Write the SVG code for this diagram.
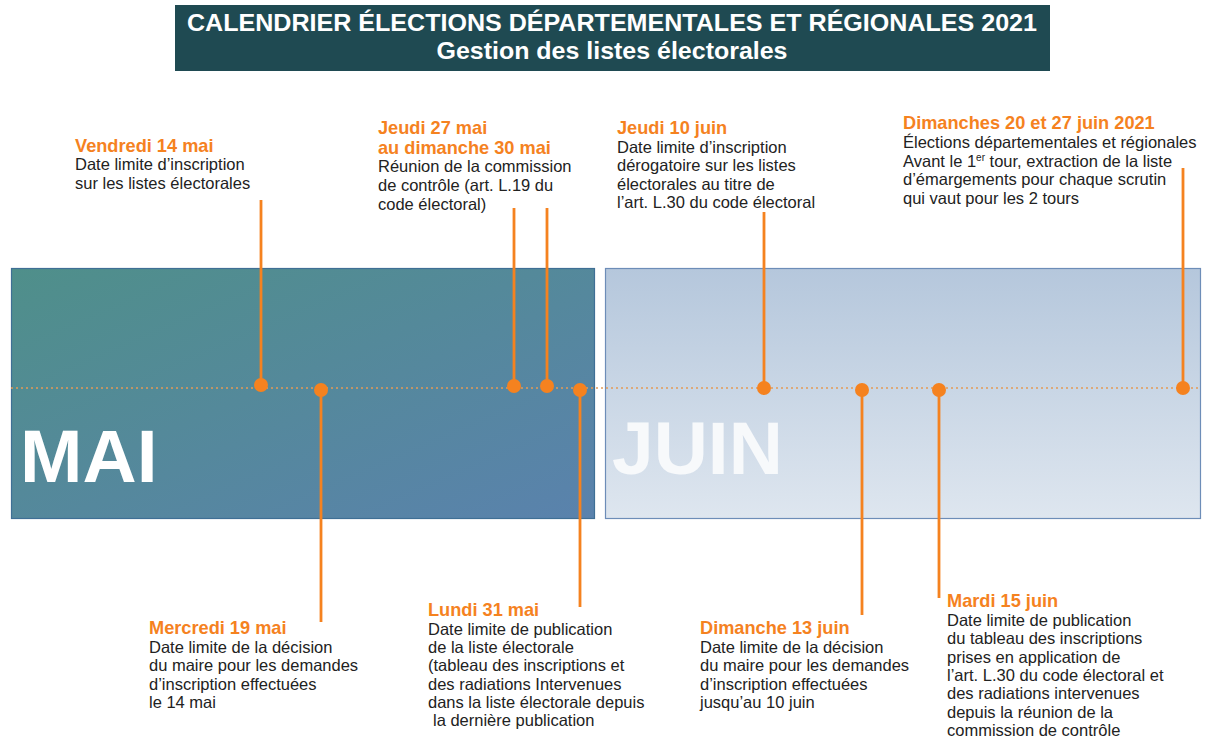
<svg xmlns="http://www.w3.org/2000/svg" width="1208" height="745" viewBox="0 0 1208 745">
<defs>
<linearGradient id="gMai" x1="0" y1="0" x2="1" y2="1">
<stop offset="0" stop-color="#4f8f8a"/>
<stop offset="1" stop-color="#5a82ad"/>
</linearGradient>
<linearGradient id="gJuin" x1="0" y1="0" x2="0" y2="1">
<stop offset="0" stop-color="#b5c7dc"/>
<stop offset="1" stop-color="#dee6ef"/>
</linearGradient>
<style>
.t{font-family:"Liberation Sans",Arial,sans-serif;}
.h{font-family:"Liberation Sans",Arial,sans-serif;font-weight:bold;font-size:18.2px;fill:#f5821f;}
.b{font-family:"Liberation Sans",Arial,sans-serif;font-size:16.5px;fill:#222;}
.ln{stroke:#f5821f;stroke-width:2.8;fill:none;}
.dot{fill:#f5821f;}
</style>
</defs>
<rect width="1208" height="745" fill="#fff"/>
<g id="title">
<rect x="175" y="5" width="875" height="66" fill="#1f4a52"/>
<text class="t" x="612" y="31" text-anchor="middle" font-size="23" font-weight="bold" fill="#fff" textLength="850" lengthAdjust="spacingAndGlyphs">CALENDRIER ÉLECTIONS DÉPARTEMENTALES ET RÉGIONALES 2021</text>
<text class="t" x="612" y="59" text-anchor="middle" font-size="24" font-weight="bold" fill="#fff" textLength="351" lengthAdjust="spacingAndGlyphs">Gestion des listes électorales</text>
</g>
<g id="mai">
<rect x="11.5" y="268.5" width="583" height="250" fill="url(#gMai)" stroke="#3f6f95" stroke-width="1.2"/>
<text class="t" x="20" y="482" font-size="75" font-weight="bold" fill="#fff">MAI</text>
</g>
<g id="juin">
<rect x="605.5" y="268.5" width="595" height="250" fill="url(#gJuin)" stroke="#6d8db8" stroke-width="1.2"/>
<text class="t" x="612" y="474" font-size="75" font-weight="bold" fill="#f7f9fb">JUIN</text>
</g>
<g id="connectors">
<line x1="11" y1="388" x2="1201" y2="388" stroke="#e39a55" stroke-width="1.6" stroke-dasharray="2,3"/>
<line class="ln" x1="261" y1="200" x2="261" y2="385"/>
<line class="ln" x1="321" y1="390" x2="321" y2="622"/>
<line class="ln" x1="514" y1="208" x2="514" y2="386"/>
<line class="ln" x1="547" y1="208" x2="547" y2="386"/>
<line class="ln" x1="580" y1="390" x2="580" y2="607"/>
<line class="ln" x1="764" y1="212" x2="764" y2="388"/>
<line class="ln" x1="862" y1="390" x2="862" y2="615"/>
<line class="ln" x1="939" y1="390" x2="939" y2="598"/>
<line class="ln" x1="1183" y1="168" x2="1183" y2="388"/>
<circle class="dot" cx="261" cy="385" r="7"/>
<circle class="dot" cx="321" cy="390" r="7"/>
<circle class="dot" cx="514" cy="386" r="7"/>
<circle class="dot" cx="547" cy="386" r="7"/>
<circle class="dot" cx="580" cy="390" r="7"/>
<circle class="dot" cx="764" cy="388" r="7"/>
<circle class="dot" cx="862" cy="390" r="7"/>
<circle class="dot" cx="939" cy="390" r="7"/>
<circle class="dot" cx="1183" cy="388" r="7"/>
</g>
<g id="n-vendredi14">
<text class="h" x="75" y="152">Vendredi 14 mai</text>
<text class="b" x="75" y="170">Date limite d’inscription</text>
<text class="b" x="75" y="189">sur les listes électorales</text>
</g>
<g id="n-jeudi27">
<text class="h" x="378" y="134">Jeudi 27 mai</text>
<text class="h" x="378" y="154">au dimanche 30 mai</text>
<text class="b" x="378" y="172">Réunion de la commission</text>
<text class="b" x="378" y="191">de contrôle (art. L.19 du</text>
<text class="b" x="378" y="210">code électoral)</text>
</g>
<g id="n-jeudi10">
<text class="h" x="617" y="134">Jeudi 10 juin</text>
<text class="b" x="617" y="153">Date limite d’inscription</text>
<text class="b" x="617" y="171">dérogatoire sur les listes</text>
<text class="b" x="617" y="190">électorales au titre de</text>
<text class="b" x="617" y="208">l’art. L.30 du code électoral</text>
</g>
<g id="n-dimanches20-27">
<text class="h" x="903" y="129">Dimanches 20 et 27 juin 2021</text>
<text class="b" x="903" y="148">Élections départementales et régionales</text>
<text class="b" x="903" y="167">Avant le 1<tspan font-size="10" dy="-6">er</tspan><tspan dy="6"> tour, extraction de la liste</tspan></text>
<text class="b" x="903" y="185">d’émargements pour chaque scrutin</text>
<text class="b" x="903" y="204">qui vaut pour les 2 tours</text>
</g>
<g id="n-mercredi19">
<text class="h" x="149" y="634">Mercredi 19 mai</text>
<text class="b" x="149" y="653">Date limite de la décision</text>
<text class="b" x="149" y="671">du maire pour les demandes</text>
<text class="b" x="149" y="690">d’inscription effectuées</text>
<text class="b" x="149" y="708">le 14 mai</text>
</g>
<g id="n-lundi31">
<text class="h" x="428" y="616">Lundi 31 mai</text>
<text class="b" x="428" y="635">Date limite de publication</text>
<text class="b" x="428" y="653">de la liste électorale</text>
<text class="b" x="428" y="671">(tableau des inscriptions et</text>
<text class="b" x="428" y="690">des radiations Intervenues</text>
<text class="b" x="428" y="708">dans la liste électorale depuis</text>
<text class="b" x="433" y="726">la dernière publication</text>
</g>
<g id="n-dimanche13">
<text class="h" x="700" y="634">Dimanche 13 juin</text>
<text class="b" x="700" y="653">Date limite de la décision</text>
<text class="b" x="700" y="671">du maire pour les demandes</text>
<text class="b" x="700" y="690">d’inscription effectuées</text>
<text class="b" x="700" y="708">jusqu’au 10 juin</text>
</g>
<g id="n-mardi15">
<text class="h" x="947" y="607">Mardi 15 juin</text>
<text class="b" x="947" y="626">Date limite de publication</text>
<text class="b" x="947" y="644">du tableau des inscriptions</text>
<text class="b" x="947" y="663">prises en application de</text>
<text class="b" x="947" y="681">l’art. L.30 du code électoral et</text>
<text class="b" x="947" y="699">des radiations intervenues</text>
<text class="b" x="947" y="718">depuis la réunion de la</text>
<text class="b" x="947" y="736">commission de contrôle</text>
</g>
</svg>
